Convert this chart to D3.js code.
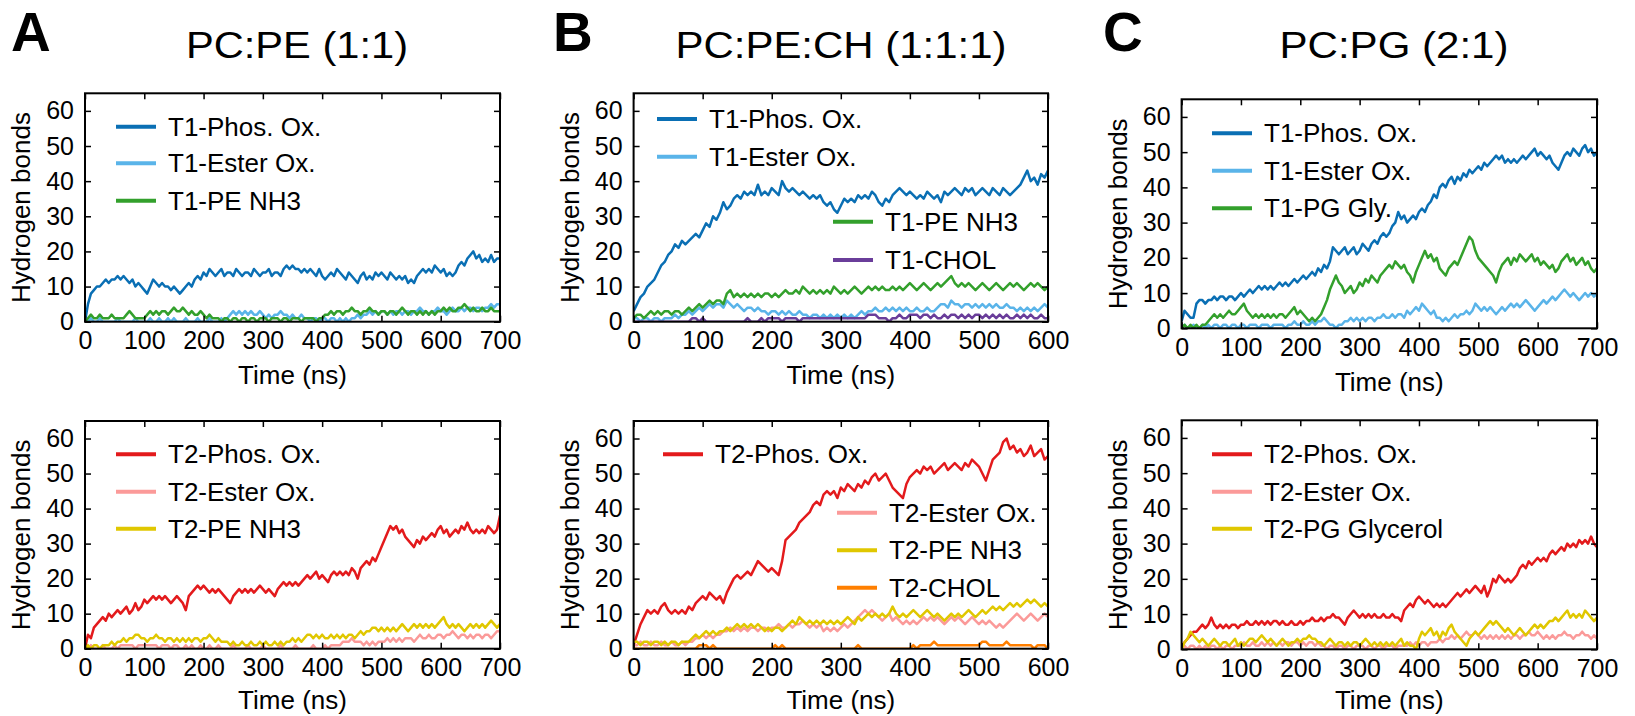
<!DOCTYPE html>
<html lang="en">
<head>
<meta charset="UTF-8">
<title>Hydrogen bonds - PC:PE, PC:PE:CH, PC:PG</title>
<script src="https://d3js.org/d3.v7.min.js"></script>
<style>
  body { margin:0; background:#ffffff; }
  svg { display:block; font-family:"Liberation Sans", Arial, Helvetica, sans-serif; }
</style>
</head>
<body>
<svg id="chart" width="1635" height="716"></svg>
<script>

// every series is sampled once per 5 ns, starting at t = 0
var STEP = 5;
var yTicks = [0, 10, 20, 30, 40, 50, 60];
var xTicks700 = [0, 100, 200, 300, 400, 500, 600, 700];
var xTicks600 = [0, 100, 200, 300, 400, 500, 600];

var titles = ["PC:PE (1:1)", "PC:PE:CH (1:1:1)", "PC:PG (2:1)"];
var letters = ["A", "B", "C"];

// ---- A : PC:PE, top ----
var labelsA1 = ["T1-Phos. Ox.", "T1-Ester Ox.", "T1-PE NH3"];
var t1PhosA = [0,5,8,9,10,10,11,12,11,12, 12,13,12,13,12,11,12,10,11,10, 9,8,10,12,11,10,11,10,10,9,
  10,9,8,9,10,11,10,12,13,12, 14,13,15,14,13,14,15,13,14,14, 13,15,14,13,14,14,13,15,14,13,
  14,14,15,13,14,14,13,15,16,15, 16,15,15,14,15,14,15,14,13,15, 13,12,13,14,13,15,14,13,12,14,
  13,12,11,13,14,12,13,12,14,13, 14,13,12,14,13,12,13,12,13,11, 12,11,13,14,15,14,15,14,16,15,
  14,15,13,14,13,14,16,17,16,18, 19,20,18,19,17,18,17,19,17,18, 18];
var t1EsterA = [0,0,1,0,0,1,0,0,0,0, 0,1,0,0,0,0,0,1,0,0, 0,0,1,0,0,1,0,0,1,0,
  1,0,0,0,1,0,0,0,1,0, 0,0,1,0,0,0,1,0,1,2, 3,2,3,2,3,2,3,2,2,3,
  2,1,2,1,2,2,3,2,2,1, 2,1,1,2,1,1,0,1,1,0, 1,1,0,1,1,0,1,0,1,0,
  1,1,2,1,2,2,3,2,3,2, 3,3,2,3,2,3,3,2,3,3, 2,3,3,4,3,3,2,3,3,4,
  3,3,2,3,4,3,3,4,3,4, 4,3,4,4,3,4,4,5,4,5, 5];
var t1NH3A = [0,1,2,1,1,2,1,1,1,2, 1,1,1,1,2,3,2,1,1,1, 1,2,3,2,3,2,3,3,2,3,
  4,3,3,4,3,2,3,2,2,3, 2,1,2,1,1,1,0,1,1,0, 1,1,0,1,1,0,1,1,0,1,
  1,1,0,1,1,1,0,1,1,0, 1,1,1,0,1,1,1,1,0,1, 1,2,2,3,2,3,3,2,3,3,
  4,3,3,2,3,3,4,3,3,2, 3,3,2,3,3,2,3,4,3,2, 3,3,2,3,2,3,2,3,2,3,
  3,4,3,4,3,3,4,4,5,4, 3,4,3,3,4,3,3,4,3,3, 3];

// ---- A : PC:PE, bottom ----
var labelsA2 = ["T2-Phos. Ox.", "T2-Ester Ox.", "T2-PE NH3"];
var t2PhosA = [0,4,3,6,7,8,9,8,10,9, 10,11,10,11,12,10,11,13,11,12, 14,13,14,15,14,15,14,15,14,13,
  14,15,14,13,11,15,16,17,18,17, 18,17,16,17,16,17,16,15,14,13, 15,16,17,16,17,16,17,16,17,18,
  17,16,17,16,15,17,18,19,18,19, 18,19,18,19,20,21,20,21,22,20, 21,20,19,21,22,21,22,21,22,21,
  23,22,20,23,24,25,24,26,25,27, 29,31,33,35,34,35,33,34,32,31, 30,29,31,30,32,31,32,33,32,34,
  35,33,34,32,33,34,33,35,34,36, 34,33,34,33,34,33,35,34,33,34, 38];
var t2EsterA = [0,0,1,0,0,0,1,0,0,0, 1,0,1,1,1,1,1,0,1,1, 1,1,1,1,1,0,1,1,1,0,
  1,1,0,0,1,0,1,0,0,1, 0,0,1,0,0,1,0,0,0,0, 1,0,0,0,0,1,0,0,0,0,
  1,0,0,0,0,0,1,0,0,0, 0,1,0,0,0,0,0,1,0,0, 0,1,0,1,1,1,1,2,2,2,
  3,2,2,2,1,2,1,2,1,2, 2,2,3,2,3,2,3,2,3,3, 3,2,3,4,3,3,4,3,3,4,
  4,3,4,4,5,4,3,4,4,3, 4,3,4,4,3,4,4,3,4,5, 5];
var t2NH3A = [0,1,0,1,1,0,1,1,1,2, 1,2,2,3,2,3,3,4,4,3, 3,2,3,3,4,3,3,2,3,3,
  2,3,2,3,2,3,2,3,3,2, 3,3,4,3,2,3,2,2,2,1, 2,1,1,2,1,1,2,1,1,2,
  1,2,1,1,2,1,2,1,2,2, 3,2,3,2,3,4,4,3,4,3, 4,3,3,4,3,4,3,4,3,4,
  4,3,4,5,4,5,5,6,6,5, 6,5,6,5,6,5,6,7,6,5, 6,7,6,7,6,7,6,7,6,7,
  8,9,7,6,7,6,7,6,5,6, 7,6,7,6,7,6,7,8,7,6, 7];

// ---- B : PC:PE:CH, top ----
var labelsB1 = ["T1-Phos. Ox.", "T1-Ester Ox.", "T1-PE NH3", "T1-CHOL"];
var t1PhosB = [3,5,7,8,10,11,12,14,16,17, 19,20,22,21,23,22,23,24,25,24, 26,28,27,30,29,31,34,32,33,35,
  36,35,37,36,37,36,39,36,37,36, 38,37,36,40,38,37,38,37,36,37, 36,35,36,35,36,34,33,34,32,31,
  33,35,34,35,34,36,35,36,35,37, 36,34,33,35,34,36,37,38,37,36, 37,36,35,36,35,37,36,35,36,34,
  37,36,37,38,37,36,38,37,38,36, 37,38,37,36,38,37,36,38,37,36, 37,38,39,41,43,40,41,39,42,41, 43];
var t1EsterB = [1,1,0,1,1,0,1,1,0,1, 1,1,2,1,2,2,3,2,3,4, 3,4,5,4,5,5,4,6,5,4,
  5,4,3,4,4,3,4,3,3,2, 3,3,2,3,2,3,2,2,3,2, 2,1,2,2,1,2,1,2,1,2,
  1,2,1,2,1,2,3,2,3,3, 4,3,3,4,3,4,3,4,3,4, 3,3,4,3,3,4,3,3,4,5,
  5,4,6,5,5,4,5,5,4,5, 4,5,4,5,4,5,4,4,5,4, 4,3,4,3,4,3,4,3,4,5, 4];
var t1NH3B = [1,2,2,1,2,3,2,3,2,3, 3,2,3,3,2,3,4,3,4,5, 4,5,6,5,6,6,5,8,9,7,
  8,7,8,7,8,7,8,7,8,8, 7,8,7,8,9,8,8,9,8,10, 9,8,9,8,9,8,9,8,10,9,
  8,9,8,9,10,9,8,9,10,9, 10,9,10,9,9,10,9,10,9,10, 11,10,9,10,11,10,9,10,11,10,
  11,12,13,11,10,11,10,11,10,9, 10,11,10,9,10,11,10,9,10,11, 10,11,10,9,10,11,10,11,10,9, 10];
var t1CholB = [0,0,0,0,0,0,0,0,0,0, 0,0,0,0,0,0,0,1,1,0, 1,0,0,0,0,0,0,0,0,0,
  0,0,0,1,0,0,0,1,0,1, 1,1,1,0,1,1,1,1,0,1, 1,1,1,1,1,1,1,1,1,1,
  1,1,1,1,1,1,1,1,2,2, 2,1,1,1,0,1,1,2,1,1, 2,2,2,1,2,2,1,2,1,1,
  2,1,2,2,1,2,1,2,1,2, 2,1,2,1,2,1,2,1,2,1, 1,2,1,2,1,2,1,1,2,1, 1];

// ---- B : PC:PE:CH, bottom ----
var labelsB2 = ["T2-Phos. Ox.", "T2-Ester Ox.", "T2-PE NH3", "T2-CHOL"];
var t2PhosB = [1,4,7,9,11,10,11,10,12,13, 11,10,11,10,11,10,12,11,13,14, 15,14,16,15,14,15,13,16,18,20,
  21,20,21,22,21,23,25,24,23,22, 23,22,21,25,31,32,33,34,36,37, 38,39,41,42,41,44,45,44,45,43,
  46,45,47,46,45,47,46,48,47,49, 50,48,49,50,48,46,45,44,43,47, 49,50,51,50,52,51,52,50,51,52,
  53,51,52,53,52,51,53,52,54,53, 52,50,48,51,54,55,56,59,60,57, 58,56,57,55,56,58,55,56,57,54, 55];
var t2EsterB = [1,1,2,1,1,2,1,1,2,1, 1,2,1,1,2,1,2,2,3,3, 4,3,4,3,4,4,5,5,6,5,
  6,5,6,5,6,6,5,6,6,5, 6,6,7,6,6,7,6,7,7,8, 7,6,7,6,7,5,6,5,6,5,
  6,7,6,7,8,9,10,11,10,11, 10,9,8,9,10,8,9,8,7,8, 7,8,7,8,9,8,9,8,9,8,
  7,8,9,8,9,8,7,8,9,8, 7,8,7,8,7,6,7,6,7,8, 9,10,9,8,9,10,9,8,9,10, 9];
var t2NH3B = [2,2,1,2,2,1,2,2,1,2, 1,2,2,1,2,2,2,3,4,3, 4,5,4,5,4,5,5,6,5,6,
  7,6,7,6,7,6,7,6,5,6, 5,6,6,5,6,7,8,7,9,8, 7,8,7,8,7,8,7,8,7,8,
  7,8,9,8,7,9,8,9,10,9, 10,9,10,9,10,12,10,9,10,9, 10,11,10,9,10,11,10,9,10,9,
  8,9,10,9,10,9,10,11,10,9, 10,11,10,11,12,11,12,11,12,13, 12,13,12,13,14,13,14,13,12,13, 12];
var t2CholB = [0,0,0,0,0,0,0,0,0,0, 0,0,0,0,0,0,0,0,0,1, 1,1,0,1,0,0,0,0,0,0,
  0,0,0,0,0,0,0,0,0,0, 0,1,0,1,0,0,0,0,0,0, 0,0,0,0,0,0,0,0,0,0,
  0,0,0,0,0,1,0,0,0,0, 0,0,0,0,0,0,0,0,0,0, 0,1,0,1,1,1,1,2,1,1,
  1,1,1,1,1,1,1,1,1,1, 1,2,2,1,1,1,1,1,2,1, 1,1,1,1,1,1,0,1,1,1, 0];

// ---- C : PC:PG, top ----
var labelsC1 = ["T1-Phos. Ox.", "T1-Ester Ox.", "T1-PG Gly."];
var t1PhosC = [2,5,4,3,3,7,8,8,7,8, 8,9,8,9,9,8,9,9,8,9, 10,9,10,11,10,11,12,11,12,11,
  12,11,12,13,12,13,12,13,14,13, 14,15,14,15,16,15,17,16,18,17, 19,23,22,21,22,23,21,22,23,21,
  22,24,23,22,24,25,24,26,27,26, 27,29,30,33,31,32,30,31,32,31, 33,34,33,35,36,38,37,40,41,40,
  42,43,41,43,42,44,43,45,44,45, 46,45,47,46,47,48,49,48,49,47, 48,47,48,47,48,49,48,49,50,51,
  49,50,49,48,49,47,46,45,47,49, 50,49,51,50,49,51,52,50,51,49, 50];
var t1EsterC = [0,1,0,0,1,0,0,1,0,1, 0,1,1,0,1,1,0,1,1,0, 1,1,0,1,1,1,0,1,1,1,
  0,1,1,1,1,0,1,1,2,1, 1,2,1,1,2,1,2,2,3,2, 1,1,0,1,1,2,2,3,2,3,
  2,3,2,3,3,2,3,3,4,3, 3,4,3,4,4,3,5,4,5,6, 5,7,6,5,4,5,3,3,2,3,
  2,3,4,3,4,4,5,4,5,7, 6,5,6,5,6,5,4,5,6,5, 6,7,6,7,6,7,8,7,6,5,
  6,7,8,7,8,9,8,9,10,11, 10,9,10,9,8,9,10,9,10,9, 10];
var t1GlyC = [0,1,0,1,0,1,0,1,1,2, 3,4,3,4,3,4,5,4,4,5, 6,7,5,4,3,4,3,4,3,4,
  3,4,3,4,4,3,4,5,6,4, 5,4,3,2,3,2,3,4,6,8, 11,13,15,13,12,10,11,12,10,11,
  13,12,14,13,15,14,13,15,16,17, 18,17,19,18,17,18,16,15,13,16, 18,20,22,20,21,19,20,17,16,15,
  17,18,19,18,20,22,24,26,25,22, 20,19,18,17,16,15,13,16,18,19, 20,18,20,19,21,20,19,20,21,19,
  20,18,19,18,17,18,16,17,19,20, 21,19,20,18,19,20,18,19,17,16, 17];

// ---- C : PC:PG, bottom ----
var labelsC2 = ["T2-Phos. Ox.", "T2-Ester Ox.", "T2-PG Glycerol"];
var t2PhosC = [1,2,3,4,5,5,6,7,6,7, 9,7,6,7,6,7,6,7,7,6, 7,7,8,7,7,8,7,8,7,8,
  7,8,8,7,8,7,7,8,7,7, 8,7,8,8,9,8,8,9,8,9, 9,10,9,9,8,7,9,10,11,10,
  9,10,9,10,9,10,9,9,10,9, 9,10,9,9,8,11,12,13,12,14, 15,14,13,14,13,12,13,12,13,12,
  13,14,15,16,15,16,17,16,17,18, 17,16,18,15,17,20,19,21,20,19, 20,19,20,21,23,24,23,25,24,25,
  26,25,26,25,27,28,27,28,29,28, 30,29,30,29,31,30,31,30,32,30, 29];
var t2EsterC = [0,1,0,1,1,0,1,0,1,0, 1,1,0,1,0,1,1,0,1,1, 1,2,1,1,2,1,1,2,1,2,
  1,2,1,2,1,2,2,1,2,2, 1,2,1,2,2,1,2,1,1,0, 1,1,0,1,1,0,1,1,0,1,
  1,1,0,1,1,0,1,1,0,1, 1,1,0,1,1,1,1,2,1,2, 1,2,2,1,2,2,2,3,2,3,
  3,4,3,4,3,4,5,4,4,5, 4,3,4,3,4,3,4,3,4,3, 4,3,4,4,3,4,4,5,4,4,
  5,4,3,4,3,4,3,4,4,5, 4,4,3,4,4,5,4,4,3,4, 3];
var t2GlyC = [0,2,3,5,4,3,2,3,2,1, 2,3,2,1,2,2,1,2,3,1, 2,1,2,3,3,2,3,4,3,2,
  3,2,1,2,3,2,1,2,2,3, 2,3,3,4,3,3,2,2,1,2, 3,2,1,2,2,1,2,1,2,2,
  1,2,3,2,1,2,1,2,1,2, 1,2,1,2,3,1,2,1,1,0, 3,5,4,5,6,4,5,3,5,4,
  6,7,5,4,3,2,1,3,4,5, 4,5,6,7,8,7,8,7,6,5, 6,5,4,5,6,5,4,5,6,7,
  6,7,6,7,8,8,9,8,9,10, 11,9,10,9,10,9,11,10,9,8, 9];

// ---- colours ----
var cDarkBlue = "#0a6fb4", cLightBlue = "#5ab4e9", cGreen = "#33a02c", cPurple = "#6a3d9a";
var cRed = "#e31a1c", cPink = "#fb9a99", cYellow = "#e0c700", cOrange = "#ff7f00";

// ---- layout of the six panels (pixels) ----
var panels = [
  { left: 85, right: 500, top: 93.3, bottom: 321.7, tmax: 700, xt: xTicks700, labelGap: 62.5,
    data: [t1PhosA, t1EsterA, t1NH3A], labels: labelsA1, colors: [cDarkBlue, cLightBlue, cGreen],
    legend: [[31, 33.4], [31, 70], [31, 107.5]] },
  { left: 85, right: 500, top: 421, bottom: 648.7, tmax: 700, xt: xTicks700, labelGap: 60.5,
    data: [t2PhosA, t2EsterA, t2NH3A], labels: labelsA2, colors: [cRed, cPink, cYellow],
    legend: [[31, 33.3], [31, 70.7], [31, 107.7]] },
  { left: 633.6, right: 1048, top: 93.3, bottom: 321.7, tmax: 600, xt: xTicks600, labelGap: 62.5,
    data: [t1PhosB, t1EsterB, t1NH3B, t1CholB], labels: labelsB1, colors: [cDarkBlue, cLightBlue, cGreen, cPurple],
    legend: [[23.4, 25.7], [23.4, 63.4], [199.4, 128.4], [199.4, 166.7]] },
  { left: 633.6, right: 1048, top: 421, bottom: 648.7, tmax: 600, xt: xTicks600, labelGap: 60.5,
    data: [t2PhosB, t2EsterB, t2NH3B, t2CholB], labels: labelsB2, colors: [cRed, cPink, cYellow, cOrange],
    legend: [[29.4, 33.3], [203.4, 91.7], [203.4, 129.3], [203.4, 166.7]] },
  { left: 1181.6, right: 1597, top: 99.3, bottom: 328.3, tmax: 700, xt: xTicks700, labelGap: 62.5,
    data: [t1PhosC, t1EsterC, t1GlyC], labels: labelsC1, colors: [cDarkBlue, cLightBlue, cGreen],
    legend: [[30.4, 34], [30.4, 71.4], [30.4, 109]] },
  { left: 1181.6, right: 1597, top: 420.3, bottom: 649.3, tmax: 700, xt: xTicks700, labelGap: 59.5,
    data: [t2PhosC, t2EsterC, t2GlyC], labels: labelsC2, colors: [cRed, cPink, cYellow],
    legend: [[30.4, 34], [30.4, 71.4], [30.4, 108.4]] }
];

var headers = [
  { letterX: 11, titleX: 297, titleW: 222 },
  { letterX: 553, titleX: 841, titleW: 331 },
  { letterX: 1103, titleX: 1394, titleW: 229 }
];

var svg = d3.select("#chart");

// panel letters and titles
headers.forEach(function(h, i) {
  svg.append("text")
    .attr("x", h.letterX).attr("y", 51)
    .style("font-size", "55px").style("font-weight", "bold")
    .text(letters[i]);
  svg.append("text")
    .attr("x", h.titleX).attr("y", 58)
    .attr("text-anchor", "middle")
    .attr("textLength", h.titleW).attr("lengthAdjust", "spacingAndGlyphs")
    .style("font-size", "37px")
    .text(titles[i]);
});

panels.forEach(function(p, k) {
  var x = d3.scaleLinear().domain([0, p.tmax]).range([p.left, p.right]);
  var y = d3.scaleLinear().domain([0, 65]).range([p.bottom, p.top]);
  var g = svg.append("g");

  g.append("clipPath").attr("id", "clip" + k)
    .append("rect")
    .attr("x", p.left).attr("y", p.top)
    .attr("width", p.right - p.left).attr("height", p.bottom - p.top);

  var line = d3.line()
    .x(function(d, i) { return x(i * STEP); })
    .y(function(d) { return y(d); });

  // data lines
  p.data.forEach(function(vals, j) {
    g.append("path")
      .datum(vals)
      .attr("clip-path", "url(#clip" + k + ")")
      .attr("fill", "none")
      .attr("stroke", p.colors[j])
      .attr("stroke-width", 2.5)
      .attr("stroke-linejoin", "round")
      .attr("d", line);
  });

  // axes, ticks pointing inwards on all four sides
  var xb = g.append("g").attr("transform", "translate(0," + p.bottom + ")")
    .call(d3.axisBottom(x).tickValues(p.xt).tickSize(-6).tickPadding(10).tickFormat(d3.format("d")));
  var xtop = g.append("g").attr("transform", "translate(0," + p.top + ")")
    .call(d3.axisTop(x).tickValues(p.xt).tickSize(-6).tickFormat(""));
  var yl = g.append("g").attr("transform", "translate(" + p.left + ",0)")
    .call(d3.axisLeft(y).tickValues(yTicks).tickSize(-6).tickPadding(11).tickFormat(d3.format("d")));
  var yr = g.append("g").attr("transform", "translate(" + p.right + ",0)")
    .call(d3.axisRight(y).tickValues(yTicks).tickSize(-6).tickFormat(""));

  [xb, xtop, yl, yr].forEach(function(a) {
    a.select(".domain").remove();
    a.selectAll(".tick line").attr("stroke", "#000").attr("stroke-width", 1.5);
    a.selectAll("text")
      .style("font-size", "25px")
      .style("font-family", "'Liberation Sans', Arial, sans-serif")
      .attr("fill", "#000");
  });

  g.append("rect")
    .attr("x", p.left).attr("y", p.top)
    .attr("width", p.right - p.left).attr("height", p.bottom - p.top)
    .attr("fill", "none").attr("stroke", "#000").attr("stroke-width", 2);

  // axis titles
  g.append("text")
    .attr("x", (p.left + p.right) / 2).attr("y", p.bottom + p.labelGap)
    .attr("text-anchor", "middle")
    .style("font-size", "26px")
    .text("Time (ns)");
  g.append("text")
    .attr("transform", "translate(" + (p.left - 55) + "," + ((p.top + p.bottom) / 2) + ") rotate(-90)")
    .attr("text-anchor", "middle")
    .style("font-size", "26px")
    .text("Hydrogen bonds");

  // legend
  p.labels.forEach(function(lab, j) {
    var lx = p.left + p.legend[j][0], ly = p.top + p.legend[j][1];
    g.append("line")
      .attr("x1", lx).attr("x2", lx + 40)
      .attr("y1", ly).attr("y2", ly)
      .attr("stroke", p.colors[j]).attr("stroke-width", 4);
    g.append("text")
      .attr("x", lx + 52).attr("y", ly)
      .attr("dy", "0.35em")
      .style("font-size", "26px")
      .text(lab);
  });
});

</script>
</body>
</html>
